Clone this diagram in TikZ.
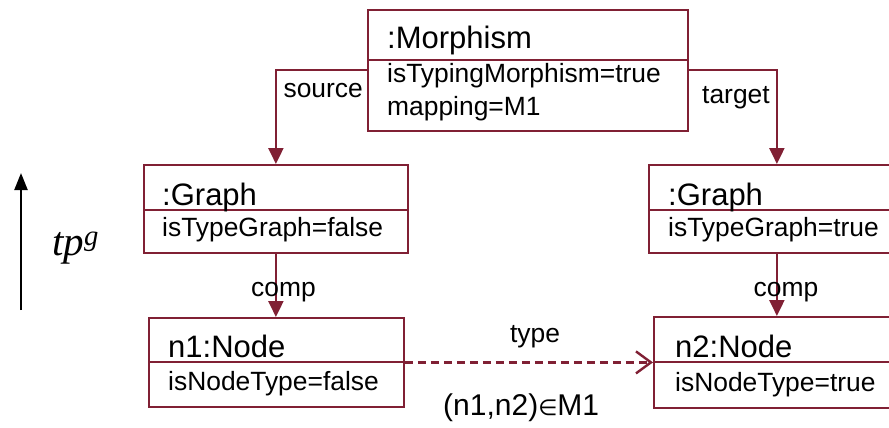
\documentclass[tikz,border=0pt]{standalone}
\usepackage{fontspec}
\setmainfont{Liberation Sans}
\newfontfamily\timesit{Liberation Serif}
\newfontfamily\dejavu{DejaVu Sans}
\usetikzlibrary{arrows.meta,positioning}
\definecolor{umlred}{RGB}{128,32,52}

\tikzset{
  objbox/.style={draw=umlred, line width=1.8pt, rectangle, inner sep=0pt, anchor=north west},
  objline/.style={draw=umlred, line width=1.8pt},
  objname/.style={anchor=base west, inner sep=0pt, font=\fontsize{31}{31}\selectfont},
  objattr/.style={anchor=base west, inner sep=0pt, font=\fontsize{26.4}{26.4}\selectfont},
  assoc/.style={draw=umlred, line width=2.2pt, -{Triangle[width=15pt,length=16pt]}},
  typeof/.style={draw=umlred, line width=2.4pt, dash pattern=on 8pt off 5pt, -{Straight Barb[width=22pt,length=15pt]}},
  lbl/.style={inner sep=0pt, font=\fontsize{26.4}{26.4}\selectfont},
}

\begin{document}
\begin{tikzpicture}[x=1pt, y=-1pt]
    \useasboundingbox (0,0) rectangle (889,428);
    \clip (0,0) rectangle (889,428);

    % object boxes
    \node[objbox, minimum width=320, minimum height=121] (morph) at (367,9) {};
    \node[objbox, minimum width=264, minimum height=88] (graphL) at (143,164) {};
    \node[objbox, minimum width=256, minimum height=88] (graphR) at (648,164) {};
    \node[objbox, minimum width=255, minimum height=89] (nodeL) at (148,317) {};
    \node[objbox, minimum width=246, minimum height=91] (nodeR) at (653,316) {};

    \draw[objline] ([yshift=-51pt]morph.north west) -- ([yshift=-51pt]morph.north east);
    \draw[objline] ([yshift=-46pt]graphL.north west) -- ([yshift=-46pt]graphL.north east);
    \draw[objline] ([yshift=-46pt]graphR.north west) -- ([yshift=-46pt]graphR.north east);
    \draw[objline] ([yshift=-45pt]nodeL.north west) -- ([yshift=-45pt]nodeL.north east);
    \draw[objline] ([yshift=-46pt]nodeR.north west) -- ([yshift=-46pt]nodeR.north east);

    % names and attributes
    \node[objname] (morphname) at (387,49) {:Morphism};
    \node[objattr] (morphtyping) at (387,83) {isTypingMorphism=true};
    \node[objattr] (morphmap) at (387,115) {mapping=M1};
    \node[objname] (graphLname) at (162,205) {:Graph};
    \node[objattr] (graphLattr) at (162,236) {isTypeGraph=false};
    \node[objname] (graphRname) at (668,205) {:Graph};
    \node[objattr] (graphRattr) at (668,236) {isTypeGraph=true};
    \node[objname] (nodeLname) at (168,357) {n1:Node};
    \node[objattr] (nodeLattr) at (168,390) {isNodeType=false};
    \node[objname] (nodeRname) at (675,357) {n2:Node};
    \node[objattr] (nodeRattr) at (675,391) {isNodeType=true};

    % links
    \draw[assoc] (morph.west) -| (graphL.north);
    \draw[assoc] (morph.east) -| (graphR.north);
    \draw[assoc] (graphL.south) -- (graphL.south |- nodeL.north);
    \draw[assoc] (graphR.south) -- (graphR.south |- nodeR.north);
    \draw[typeof] (nodeL.east) -- (nodeR.west);

    \node[lbl, anchor=base east] (srclbl) at (363,97) {source};
    \node[lbl, anchor=base west] (tgtlbl) at (702,103) {target};
    \node[lbl, anchor=base] (compL) at (283.5,296) {comp};
    \node[lbl, anchor=base] (compR) at (786,296) {comp};
    \node[lbl, anchor=base] (typelbl) at (535,342) {type};
    \node[lbl, anchor=base west, font=\fontsize{30}{30}\selectfont] (pairlbl) at (443,415) {(n1,n2){\dejavu\fontsize{22}{22}\selectfont ∈}M1};

    % typing direction
    \coordinate (tpbot) at (21,310);
    \coordinate (tptop) at (21,173);
    \draw[line width=2.2pt, -{Triangle[width=13pt,length=17pt]}] (tpbot) -- (tptop);
    \node[anchor=base west, inner sep=0pt, font=\timesit\itshape\fontsize{41}{41}\selectfont] (tplbl) at (52,255) {tp\textsuperscript{g}};
\end{tikzpicture}
\end{document}
